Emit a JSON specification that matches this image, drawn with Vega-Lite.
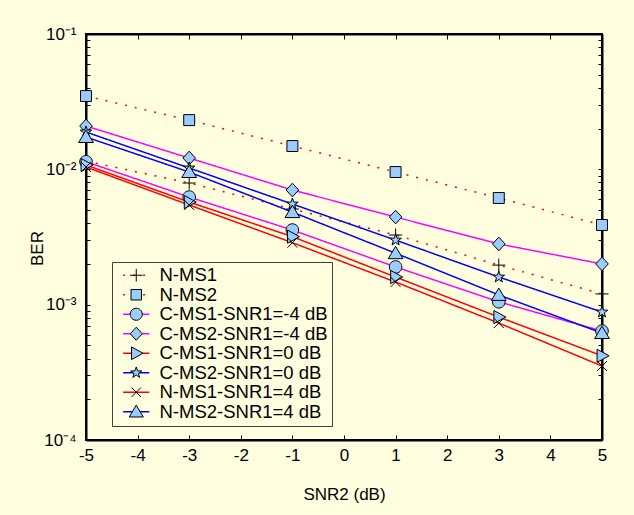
{
  "$schema": "https://vega.github.io/schema/vega-lite/v6.json",
  "width": 516,
  "height": 406,
  "autosize": {"type": "none"},
  "padding": {"left": 86, "top": 34, "right": 32, "bottom": 75},
  "background": "#FFFFE0",
  "config": {
    "view": {"stroke": "black", "strokeWidth": 2, "fill": "#FFFFE0"},
    "font": "Liberation Sans",
    "axis": {"labelFont": "Liberation Sans", "titleFont": "Liberation Sans", "labelFontSize": 17, "titleFontSize": 17, "titleFontWeight": "normal", "labelColor": "black", "titleColor": "black", "domainColor": "black", "domainWidth": 2, "tickColor": "black", "grid": false}
  },
  "data": {"values": [
    {"series": "N-MS1", "marker": "m1", "snr": -5, "ber": 0.01151},
    {"series": "N-MS1", "marker": "m1", "snr": -3, "ber": 0.00792},
    {"series": "N-MS1", "marker": "m1", "snr": -1, "ber": 0.00509},
    {"series": "N-MS1", "marker": "m1", "snr": 1, "ber": 0.00327},
    {"series": "N-MS1", "marker": "m1", "snr": 3, "ber": 0.00196},
    {"series": "N-MS1", "marker": "m1", "snr": 5, "ber": 0.00120},
    {"series": "N-MS2", "marker": "m2", "snr": -5, "ber": 0.0348},
    {"series": "N-MS2", "marker": "m2", "snr": -3, "ber": 0.0231},
    {"series": "N-MS2", "marker": "m2", "snr": -1, "ber": 0.01486},
    {"series": "N-MS2", "marker": "m2", "snr": 1, "ber": 0.00955},
    {"series": "N-MS2", "marker": "m2", "snr": 3, "ber": 0.00614},
    {"series": "N-MS2", "marker": "m2", "snr": 5, "ber": 0.00388},
    {"series": "C-MS1-SNR1=-4 dB", "marker": "m3", "snr": -5, "ber": 0.01138},
    {"series": "C-MS1-SNR1=-4 dB", "marker": "m3", "snr": -3, "ber": 0.00624},
    {"series": "C-MS1-SNR1=-4 dB", "marker": "m3", "snr": -1, "ber": 0.00356},
    {"series": "C-MS1-SNR1=-4 dB", "marker": "m3", "snr": 1, "ber": 0.00190},
    {"series": "C-MS1-SNR1=-4 dB", "marker": "m3", "snr": 3, "ber": 0.00105},
    {"series": "C-MS1-SNR1=-4 dB", "marker": "m3", "snr": 5, "ber": 0.000638},
    {"series": "C-MS2-SNR1=-4 dB", "marker": "m4", "snr": -5, "ber": 0.0209},
    {"series": "C-MS2-SNR1=-4 dB", "marker": "m4", "snr": -3, "ber": 0.01212},
    {"series": "C-MS2-SNR1=-4 dB", "marker": "m4", "snr": -1, "ber": 0.00703},
    {"series": "C-MS2-SNR1=-4 dB", "marker": "m4", "snr": 1, "ber": 0.00444},
    {"series": "C-MS2-SNR1=-4 dB", "marker": "m4", "snr": 3, "ber": 0.00281},
    {"series": "C-MS2-SNR1=-4 dB", "marker": "m4", "snr": 5, "ber": 0.00200},
    {"series": "C-MS1-SNR1=0 dB", "marker": "m5", "snr": -5, "ber": 0.01076},
    {"series": "C-MS1-SNR1=0 dB", "marker": "m5", "snr": -3, "ber": 0.00573},
    {"series": "C-MS1-SNR1=0 dB", "marker": "m5", "snr": -1, "ber": 0.00318},
    {"series": "C-MS1-SNR1=0 dB", "marker": "m5", "snr": 1, "ber": 0.00160},
    {"series": "C-MS1-SNR1=0 dB", "marker": "m5", "snr": 3, "ber": 0.000810},
    {"series": "C-MS1-SNR1=0 dB", "marker": "m5", "snr": 5, "ber": 0.000419},
    {"series": "C-MS2-SNR1=0 dB", "marker": "m6", "snr": -5, "ber": 0.01887},
    {"series": "C-MS2-SNR1=0 dB", "marker": "m6", "snr": -3, "ber": 0.01023},
    {"series": "C-MS2-SNR1=0 dB", "marker": "m6", "snr": -1, "ber": 0.00554},
    {"series": "C-MS2-SNR1=0 dB", "marker": "m6", "snr": 1, "ber": 0.00300},
    {"series": "C-MS2-SNR1=0 dB", "marker": "m6", "snr": 3, "ber": 0.00160},
    {"series": "C-MS2-SNR1=0 dB", "marker": "m6", "snr": 5, "ber": 0.000882},
    {"series": "N-MS1-SNR1=4 dB", "marker": "m7", "snr": -5, "ber": 0.01040},
    {"series": "N-MS1-SNR1=4 dB", "marker": "m7", "snr": -3, "ber": 0.00545},
    {"series": "N-MS1-SNR1=4 dB", "marker": "m7", "snr": -1, "ber": 0.00287},
    {"series": "N-MS1-SNR1=4 dB", "marker": "m7", "snr": 1, "ber": 0.00147},
    {"series": "N-MS1-SNR1=4 dB", "marker": "m7", "snr": 3, "ber": 0.000731},
    {"series": "N-MS1-SNR1=4 dB", "marker": "m7", "snr": 5, "ber": 0.000352},
    {"series": "N-MS2-SNR1=4 dB", "marker": "m8", "snr": -5, "ber": 0.01733},
    {"series": "N-MS2-SNR1=4 dB", "marker": "m8", "snr": -3, "ber": 0.00955},
    {"series": "N-MS2-SNR1=4 dB", "marker": "m8", "snr": -1, "ber": 0.00483},
    {"series": "N-MS2-SNR1=4 dB", "marker": "m8", "snr": 1, "ber": 0.00240},
    {"series": "N-MS2-SNR1=4 dB", "marker": "m8", "snr": 3, "ber": 0.00118},
    {"series": "N-MS2-SNR1=4 dB", "marker": "m8", "snr": 5, "ber": 0.000617}
  ]},
  "resolve": {"axis": {"x": "independent", "y": "independent"}},
  "layer": [
    {
      "mark": {"type": "line", "strokeWidth": 1.5},
      "encoding": {
        "x": {"field": "snr", "type": "quantitative", "scale": {"domain": [-5, 5], "nice": false, "zero": false},
          "axis": {"orient": "bottom", "values": [-5, -4, -3, -2, -1, 0, 1, 2, 3, 4, 5], "labelExpr": "'' + datum.value", "tickSize": -5, "labelPadding": 12, "title": "SNR2 (dB)", "titleY": 54, "titleBaseline": "middle", "labelFlush": false, "labelOverlap": false}},
        "y": {"field": "ber", "type": "quantitative", "scale": {"type": "log", "domain": [0.0001, 0.1], "nice": false},
          "axis": {"orient": "left", "values": [0.0001, 0.0002, 0.0003, 0.0004, 0.0005, 0.0006, 0.0007, 0.0008, 0.0009, 0.001, 0.002, 0.003, 0.004, 0.005, 0.006, 0.007, 0.008, 0.009, 0.01, 0.02, 0.03, 0.04, 0.05, 0.06, 0.07, 0.08, 0.09, 0.1],
            "labelExpr": "datum.value == 0.1 ? '10⁻¹' : datum.value == 0.01 ? '10⁻²' : datum.value == 0.001 ? '10⁻³' : datum.value == 0.0001 ? '10⁻⁴' : ''",
            "tickSize": -4, "labelPadding": 14, "labelOverlap": false, "labelFlush": false, "title": "BER", "titleX": -49, "titleY": 214, "titleAngle": -90, "titleBaseline": "middle", "titleAlign": "center"}},
        "color": {"field": "series", "type": "nominal",
          "scale": {"domain": ["N-MS1", "N-MS2", "C-MS1-SNR1=-4 dB", "C-MS2-SNR1=-4 dB", "C-MS1-SNR1=0 dB", "C-MS2-SNR1=0 dB", "N-MS1-SNR1=4 dB", "N-MS2-SNR1=4 dB"],
            "range": ["#FF0000", "#FF0000", "#FF00FF", "#FF00FF", "#FF0000", "#0000FF", "#FF0000", "#0000FF"]},
          "legend": {"title": null, "orient": "none", "legendX": 26, "legendY": 228, "padding": 4, "fillColor": "#FFFFE0", "strokeColor": "#404040", "symbolType": "M-2.5,0L2.5,0", "symbolSize": 110, "symbolStrokeWidth": 1.5, "symbolOffset": 11, "labelOffset": 14, "labelFont": "Liberation Sans", "labelFontSize": 18.5, "labelColor": "black", "labelLimit": 300, "rowPadding": 0.5}},
        "strokeDash": {"field": "series", "type": "nominal",
          "scale": {"domain": ["N-MS1", "N-MS2", "C-MS1-SNR1=-4 dB", "C-MS2-SNR1=-4 dB", "C-MS1-SNR1=0 dB", "C-MS2-SNR1=0 dB", "N-MS1-SNR1=4 dB", "N-MS2-SNR1=4 dB"],
            "range": [[2, 8], [2, 8], [1, 0], [1, 0], [1, 0], [1, 0], [1, 0], [1, 0]]}}
      }
    },
    {
      "mark": {"type": "point", "filled": true, "stroke": "black", "strokeWidth": 1, "size": 120, "opacity": 1},
      "encoding": {
        "x": {"field": "snr", "type": "quantitative", "axis": {"orient": "top", "values": [-5, -4, -3, -2, -1, 0, 1, 2, 3, 4, 5], "tickSize": -5, "labels": false, "title": null}},
        "y": {"field": "ber", "type": "quantitative", "axis": {"orient": "right", "values": [0.0001, 0.0002, 0.0003, 0.0004, 0.0005, 0.0006, 0.0007, 0.0008, 0.0009, 0.001, 0.002, 0.003, 0.004, 0.005, 0.006, 0.007, 0.008, 0.009, 0.01, 0.02, 0.03, 0.04, 0.05, 0.06, 0.07, 0.08, 0.09, 0.1], "tickSize": -4, "labels": false, "title": null}},
        "fill": {"field": "marker", "type": "nominal",
          "scale": {"domain": ["m1", "m2", "m3", "m4", "m5", "m6", "m7", "m8"],
            "range": ["transparent", "#99CCFF", "#99CCFF", "#99CCFF", "#99CCFF", "#99CCFF", "transparent", "#99CCFF"]},
          "legend": {"title": null, "orient": "none", "legendX": 26, "legendY": 228, "padding": 4, "symbolSize": 110, "symbolStrokeColor": "black", "symbolStrokeWidth": 1, "symbolOffset": 11, "labelOffset": 14, "labelExpr": "''", "labelFont": "Liberation Sans", "labelFontSize": 18.5, "labelColor": "transparent", "labelLimit": 300, "rowPadding": 0.5}},
        "shape": {"field": "marker", "type": "nominal",
          "scale": {"domain": ["m1", "m2", "m3", "m4", "m5", "m6", "m7", "m8"],
            "range": ["M-1.2,0L1.2,0M0,-1.2L0,1.2", "square", "M1.15,0A1.15,1.15,0,1,1,-1.15,0A1.15,1.15,0,1,1,1.15,0Z", "M0,-1.25L1.15,0L0,1.25L-1.15,0Z", "M-0.9,-1.2L1.3,0L-0.9,1.2Z", "M0,-1.1L0.26,-0.36L1.05,-0.34L0.42,0.14L0.65,0.89L0,0.44L-0.65,0.89L-0.42,0.14L-1.05,-0.34L-0.26,-0.36Z", "M-0.9,-0.9L0.9,0.9M-0.9,0.9L0.9,-0.9", "M0,-1.25L1.35,1L-1.35,1Z"]}}
      }
    }
  ]
}
